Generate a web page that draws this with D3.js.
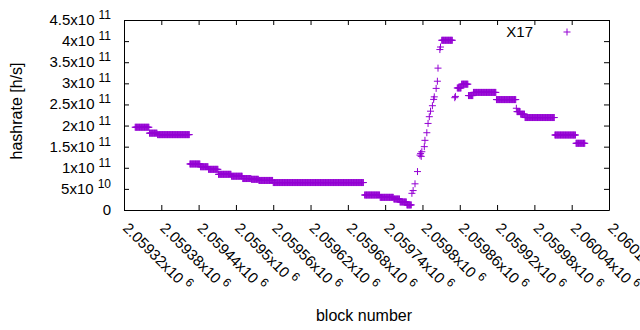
<!DOCTYPE html>
<html>
<head>
<meta charset="utf-8">
<script src="https://cdn.jsdelivr.net/npm/d3@7"></script>
<style>
body { margin: 0; background: #fff; }
svg text { font-family: "Liberation Sans", Arial, sans-serif; fill: #000; }
</style>
</head>
<body>
<div id="chart"></div>
<script>
// runs of blocks that share one hashrate estimate
var runFirst = [2059338, 2059361, 2059374, 2059426, 2059443, 2059456, 2059472, 2059493,
    2059511, 2059525, 2059537, 2059560, 2059707, 2059732, 2059754, 2059764, 2059775,
    2059831, 2059856, 2059863, 2059874, 2059882, 2059919, 2059952, 2059958, 2059965,
    2060013, 2060047];
var runLast = [2059360, 2059373, 2059425, 2059442, 2059455, 2059471, 2059492, 2059510,
    2059524, 2059536, 2059559, 2059705, 2059731, 2059753, 2059763, 2059774, 2059782,
    2059848, 2059862, 2059873, 2059881, 2059918, 2059950, 2059957, 2059964, 2060012,
    2060046, 2060061];
var runRate = [1.96e11, 1.82e11, 1.785e11, 1.09e11, 1.025e11, 0.963e11, 0.845e11, 0.80e11,
    0.745e11, 0.727e11, 0.70e11, 0.65e11, 0.355e11, 0.30e11, 0.26e11, 0.19e11, 0.12e11,
    4.02e11, 2.89e11, 2.98e11, 2.71e11, 2.785e11, 2.615e11, 2.33e11, 2.27e11, 2.19e11,
    1.776e11, 1.58e11];

// single blocks (the fast climb and a few strays)
var singleBlocks = [2059783, 2059785, 2059788, 2059792, 2059796, 2059797, 2059798, 2059799,
    2059803, 2059804, 2059807, 2059809, 2059811, 2059813, 2059816, 2059818, 2059819,
    2059822, 2059824, 2059825, 2059828, 2059829, 2059852, 2059853, 2059951];
var singleRates = [3.95e10, 4.6e10, 6.2e10, 9.1e10, 1.30e11, 1.34e11, 1.27e11, 1.38e11,
    1.50e11, 1.65e11, 1.83e11, 2.05e11, 2.21e11, 2.34e11, 2.47e11, 2.62e11, 2.68e11,
    2.88e11, 3.05e11, 3.36e11, 3.80e11, 3.86e11, 2.66e11, 2.69e11, 2.41e11];

var seriesName = 'X17';

var xTicks = [2059320, 2059380, 2059440, 2059500, 2059560, 2059620, 2059680,
    2059740, 2059800, 2059860, 2059920, 2059980, 2060040, 2060100];
var xTickMantissa = ['2.05932', '2.05938', '2.05944', '2.0595', '2.05956', '2.05962',
    '2.05968', '2.05974', '2.0598', '2.05986', '2.05992', '2.05998', '2.06004', '2.0601'];
var xTickPower = '6';

var yTicks = [0, 5e10, 1e11, 1.5e11, 2e11, 2.5e11, 3e11, 3.5e11, 4e11, 4.5e11];
var yTickMantissa = ['0', '5', '1', '1.5', '2', '2.5', '3', '3.5', '4', '4.5'];
var yTickPower = ['', '10', '11', '11', '11', '11', '11', '11', '11', '11'];

var width = 640, height = 330;
var box = {left: 124, right: 609, top: 20, bottom: 210};
var color = '#9400d3';
var arm = 3.5;

var build_points = function() {
    var out = [];
    for (var i = 0; i < runFirst.length; i++) {
        for (var b = runFirst[i]; b <= runLast[i]; b++)
            out.push({block: b, rate: runRate[i]});
    }
    for (var j = 0; j < singleBlocks.length; j++)
        out.push({block: singleBlocks[j], rate: singleRates[j]});
    return out;
};

var plus = function(cx, cy) {
    return 'M' + (cx - arm) + ',' + cy + 'H' + (cx + arm)
        + 'M' + cx + ',' + (cy - arm) + 'V' + (cy + arm);
};

var draw = function() {
    var svg = d3.select('#chart').append('svg')
        .attr('width', width)
        .attr('height', height);

    var x = d3.scaleLinear()
        .domain([xTicks[0], xTicks[xTicks.length - 1]])
        .range([box.left, box.right]);
    var y = d3.scaleLinear()
        .domain([0, 4.5e11])
        .range([box.bottom, box.top]);

    // inward ticks on all four sides, like gnuplot's mirrored border
    var sides = [
        [d3.axisBottom(x).tickValues(xTicks), 'translate(0,' + box.bottom + ')'],
        [d3.axisTop(x).tickValues(xTicks), 'translate(0,' + box.top + ')'],
        [d3.axisLeft(y).tickValues(yTicks), 'translate(' + box.left + ',0)'],
        [d3.axisRight(y).tickValues(yTicks), 'translate(' + box.right + ',0)']
    ];
    sides.forEach(function(s) {
        svg.append('g')
            .attr('transform', s[1])
            .call(s[0].tickSize(-5).tickSizeOuter(0).tickFormat(''))
            .call(function(g) {
                g.selectAll('line').attr('stroke', '#000');
                g.select('.domain').attr('stroke', '#000');
            });
    });

    // y tick labels with exponent
    var ylab = svg.append('g').selectAll('text')
        .data(yTicks)
        .enter()
        .append('text')
        .attr('x', 111)
        .attr('y', function(d) { return y(d) + 5; })
        .attr('text-anchor', 'end')
        .style('font-size', '15px');
    ylab.append('tspan')
        .text(function(d, i) { return yTickMantissa[i] + (yTickPower[i] ? 'x10' : ''); });
    ylab.append('tspan')
        .attr('dx', 4)
        .attr('dy', -6)
        .style('font-size', '12px')
        .text(function(d, i) { return yTickPower[i]; });

    // x tick labels, turned 45 degrees
    var xlab = svg.append('g').selectAll('text')
        .data(xTicks)
        .enter()
        .append('text')
        .attr('transform', function(d) {
            return 'translate(' + (x(d) - 2) + ',' + 229 + ') rotate(45)';
        })
        .style('font-size', '15px');
    xlab.append('tspan')
        .text(function(d, i) { return xTickMantissa[i] + 'x10'; });
    xlab.append('tspan')
        .attr('dx', 4)
        .attr('dy', -6)
        .style('font-size', '12px')
        .text(xTickPower);

    svg.append('text')
        .attr('x', 364)
        .attr('y', 321)
        .attr('text-anchor', 'middle')
        .style('font-size', '16px')
        .text('block number');

    svg.append('text')
        .attr('transform', 'translate(22,' + 111 + ') rotate(-90)')
        .attr('text-anchor', 'middle')
        .style('font-size', '16px')
        .text('hashrate [h/s]');

    var points = build_points();
    svg.append('g')
        .selectAll('path')
        .data(points)
        .enter()
        .append('path')
        .attr('d', function(d) { return plus(x(d.block), y(d.rate)); })
        .attr('stroke', color)
        .attr('stroke-width', 1)
        .attr('fill', 'none');

    // key
    svg.append('text')
        .attr('x', 533)
        .attr('y', 37)
        .attr('text-anchor', 'end')
        .style('font-size', '15px')
        .text(seriesName);
    svg.append('path')
        .attr('d', plus(567, 32))
        .attr('stroke', color)
        .attr('fill', 'none');

    console.log(points.length);
};

draw();
</script>
</body>
</html>
